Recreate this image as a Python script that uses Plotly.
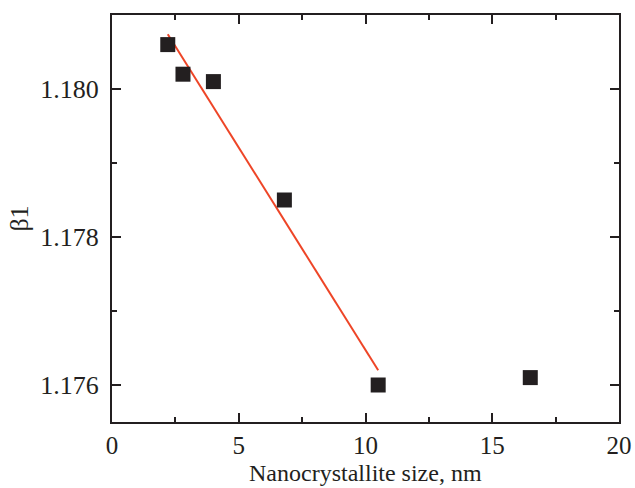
import plotly.graph_objects as go

size_nm = [2.2, 2.8, 4.0, 6.8, 10.5, 16.5]
beta1 = [1.18060, 1.18020, 1.18010, 1.17850, 1.17600, 1.17610]

fit_x = [2.2, 10.5]
fit_y = [1.18074, 1.17620]

x_ticks = [0, 5, 10, 15, 20]
y_ticks = [1.176, 1.178, 1.180]
y_tick_labels = ["1.176", "1.178", "1.180"]

font_family = "Liberation Serif, Times New Roman, serif"
ink = "#231f20"

fig = go.Figure()
fig.add_trace(go.Scatter(
    x=fit_x, y=fit_y, mode="lines",
    line=dict(color="#ee4527", width=2),
    showlegend=False, hoverinfo="skip"))
fig.add_trace(go.Scatter(
    x=size_nm, y=beta1, mode="markers",
    marker=dict(symbol="square", size=15, color=ink, line=dict(width=0)),
    showlegend=False))

axis_common = dict(
    showline=True, linewidth=2, linecolor=ink, mirror="allticks",
    ticks="inside", tickwidth=1.5, tickcolor=ink, ticklen=9,
    showgrid=False, zeroline=False, automargin=False,
)

fig.update_xaxes(
    range=[0, 20], tickvals=x_ticks,
    minor=dict(ticks="inside", ticklen=5, tickwidth=1.5, tickcolor=ink, dtick=2.5, tick0=0, showgrid=False),
    ticklabelstandoff=0,
    tickfont=dict(family=font_family, size=25, color=ink),
    **axis_common)
fig.update_yaxes(
    range=[1.1755, 1.181], tickvals=y_ticks, ticktext=y_tick_labels,
    minor=dict(ticks="inside", ticklen=5, tickwidth=1.5, tickcolor=ink, dtick=0.001, tick0=1.175, showgrid=False),
    title=dict(text="β1", font=dict(family=font_family, size=26, color=ink), standoff=4),
    ticklabelstandoff=6,
    tickfont=dict(family=font_family, size=26, color=ink),
    **axis_common)

fig.add_annotation(
    text="Nanocrystallite size, nm", xref="paper", yref="paper",
    x=0.5, y=-0.1253, xanchor="center", yanchor="middle", showarrow=False,
    font=dict(family=font_family, size=24, color=ink))

fig.update_layout(
    width=635, height=488,
    margin=dict(l=112, r=16, t=15, b=66),
    paper_bgcolor="white", plot_bgcolor="white",
)

fig.write_html("out.html")
